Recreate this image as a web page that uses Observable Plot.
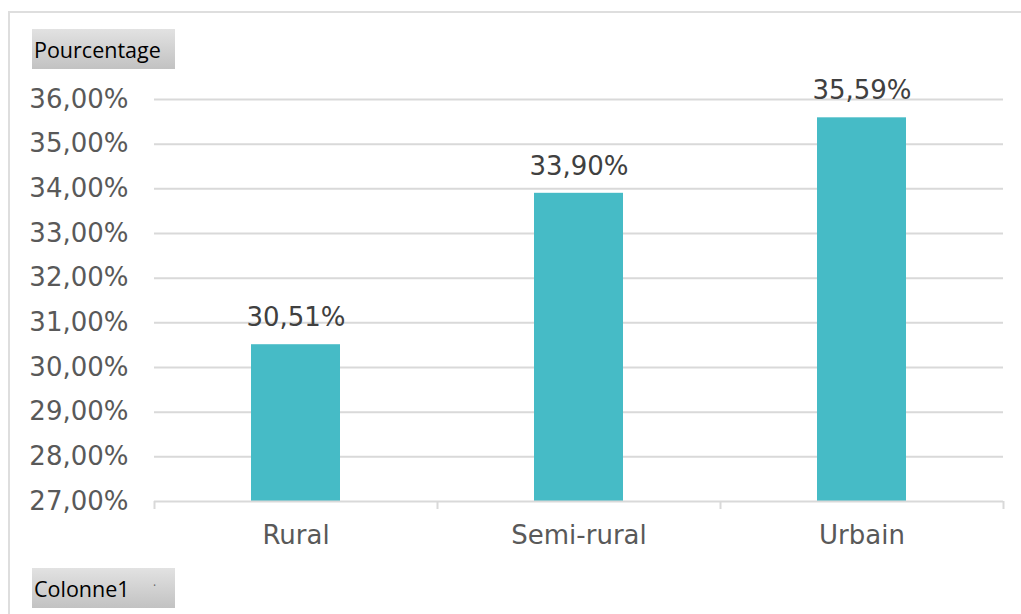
<!DOCTYPE html>
<html>
<head>
<meta charset="utf-8">
<script src="https://cdn.jsdelivr.net/npm/d3@7"></script>
<script src="https://cdn.jsdelivr.net/npm/@observablehq/plot@0.6"></script>
<style>
  html, body { margin: 0; padding: 0; background: #fff; }
  #wrap { position: relative; width: 1021px; height: 614px; overflow: hidden; background: #fff; }
  #frame { position: absolute; left: 8px; top: 11px; width: 1100px; height: 700px; border: 2px solid #dedede; box-sizing: border-box; }
  #chart { position: absolute; left: 0; top: 0; }
  .btn { position: absolute; width: 143px; height: 40px; box-sizing: border-box;
         background: linear-gradient(#e2e2e2, #c2c2c2); font-family: "Open Sans", sans-serif;
         font-size: 21.5px; line-height: 42px; padding-left: 2px; color: #000; white-space: nowrap; }
  .btn .arr { position: absolute; left: 121px; top: -3px; font-size: 12px; color: #666; }
</style>
</head>
<body>
<div id="wrap">
  <div id="frame"></div>
  <div id="chart"></div>
  <div class="btn" style="left:32px;top:29px;">Pourcentage</div>
  <div class="btn" style="left:32px;top:568px;">Colonne1<span class="arr">·</span></div>
</div>
<script>
const categories = ["Rural", "Semi-rural", "Urbain"];
const values = [30.51, 33.90, 35.59];
const yTicks = [27, 28, 29, 30, 31, 32, 33, 34, 35, 36];
const yMin = 27, yMax = 36;

const data = categories.map((c, i) => ({ cat: c, i, value: values[i] }));
const fmt = v => v.toFixed(2).replace(".", ",") + "%";

const chart = Plot.plot({
  width: 1021,
  height: 614,
  marginTop: 99,
  marginBottom: 113,
  marginLeft: 154,
  marginRight: 18,
  style: { fontFamily: "DejaVu Sans", fontSize: "26px", color: "#595959", background: "transparent" },
  x: { type: "linear", domain: [0, categories.length], axis: null, label: null },
  y: { domain: [yMin, yMax], axis: null, label: null },
  marks: [
    Plot.ruleY(yTicks.filter(t => t > yMin), { stroke: "#d9d9d9", strokeWidth: 2 }),
    Plot.rectY(data, { x1: "i", x2: d => d.i + 1, y1: yMin, y2: "value", insetLeft: 97, insetRight: 97, fill: "#46bbc6" }),
    Plot.ruleY([yMin], { stroke: "#d9d9d9", strokeWidth: 2 }),
    Plot.axisX({ ticks: d3.range(categories.length + 1), tickSize: 8, tickFormat: () => "", stroke: "#d9d9d9", strokeWidth: 2, label: null }),
    Plot.axisX({ ticks: categories.map((c, i) => i + 0.5), tickSize: 0, tickPadding: 24, tickFormat: v => categories[Math.floor(v)], fontSize: 26, fill: "#595959", label: null }),
    Plot.axisY({ ticks: yTicks, tickSize: 0, tickPadding: 26, tickFormat: fmt, fontSize: 26, fill: "#595959", label: null }),
    Plot.text(data, { x: d => d.i + 0.5, y: "value", text: d => fmt(d.value), dy: -27, fontSize: 26, fill: "#404040" })
  ]
});
document.getElementById("chart").appendChild(chart);
</script>
</body>
</html>
